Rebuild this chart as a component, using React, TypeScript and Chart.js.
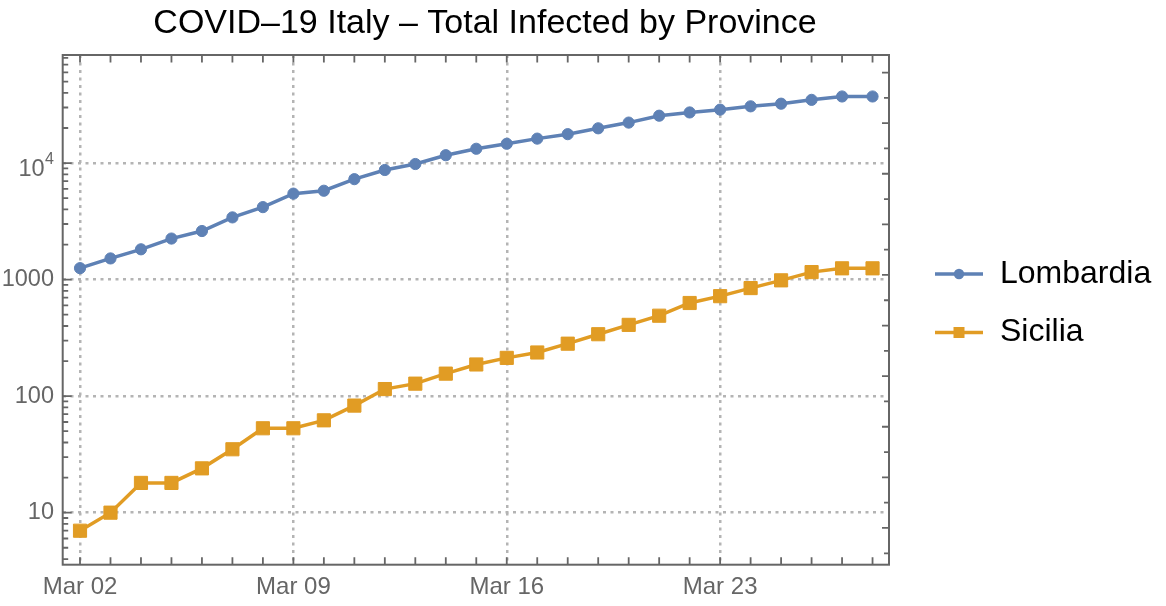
import React, { useEffect, useRef } from 'react';
import { Chart, registerables } from 'chart.js';

Chart.register(...registerables);

const titleText = 'COVID–19 Italy – Total Infected by Province';

const dates = [
  'Mar 02', 'Mar 03', 'Mar 04', 'Mar 05', 'Mar 06', 'Mar 07', 'Mar 08', 'Mar 09', 'Mar 10',
  'Mar 11', 'Mar 12', 'Mar 13', 'Mar 14', 'Mar 15', 'Mar 16', 'Mar 17', 'Mar 18', 'Mar 19',
  'Mar 20', 'Mar 21', 'Mar 22', 'Mar 23', 'Mar 24', 'Mar 25', 'Mar 26', 'Mar 27', 'Mar 28',
];

const lombardia = [
  1254, 1520, 1820, 2251, 2612, 3420, 4189, 5469, 5791, 7280, 8725, 9820, 11685, 13272,
  14649, 16220, 17713, 19884, 22264, 25515, 27206, 28761, 30703, 32346, 34889, 37298, 37298,
];

const sicilia = [
  7, 10, 18, 18, 24, 35, 53, 53, 62, 83, 115, 128, 156, 187, 213, 237, 282, 340, 409, 490,
  630, 721, 846, 986, 1160, 1250, 1250,
];

const xTickIndices = [0, 7, 14, 21];
const yTickValues = [10, 100, 1000, 10000];
const seriesNames = ['Lombardia', 'Sicilia'];

const BLUE = '#5e81b5';
const ORANGE = '#e19c24';
const FRAME = '#666666';
const GRID = '#b4b4b4';
const FONT = "'Liberation Sans', Arial, Helvetica, sans-serif";

const decorPlugin = {
  id: 'decor',
  afterDraw(chart: any) {
    const ctx = chart.ctx as CanvasRenderingContext2D;
    const { left, right, top, bottom } = chart.chartArea;
    const xs = chart.scales.x;
    const ys = chart.scales.y;
    ctx.save();

    // frame
    ctx.strokeStyle = FRAME;
    ctx.lineWidth = 2;
    ctx.setLineDash([]);
    ctx.strokeRect(left, top, right - left, bottom - top);

    // top / bottom ticks (daily)
    ctx.lineWidth = 1.8;
    ctx.beginPath();
    for (let i = 0; i < dates.length; i++) {
      const x = xs.getPixelForValue(i);
      ctx.moveTo(x, bottom);
      ctx.lineTo(x, bottom - 7.5);
      ctx.moveTo(x, top);
      ctx.lineTo(x, top + 7.5);
    }
    // left ticks (log10)
    for (let k = 0; k <= 5; k++) {
      for (let m = 1; m <= 9; m++) {
        const v = m * Math.pow(10, k);
        if (v < ys.min || v > ys.max) continue;
        const y = ys.getPixelForValue(v);
        const len = m === 1 ? 9 : 5.5;
        ctx.moveTo(left, y);
        ctx.lineTo(left + len, y);
      }
    }
    // right ticks (natural log spacing)
    const hMin = Math.ceil(2 * Math.log(ys.min));
    const hMax = Math.floor(2 * Math.log(ys.max));
    for (let h = hMin; h <= hMax; h++) {
      const v = Math.exp(h / 2);
      const y = ys.getPixelForValue(v);
      const len = h % 2 === 0 ? 7 : 5;
      ctx.moveTo(right, y);
      ctx.lineTo(right - len, y);
    }
    ctx.stroke();

    // y tick labels
    ctx.fillStyle = FRAME;
    ctx.textAlign = 'right';
    for (const v of yTickValues) {
      const y = ys.getPixelForValue(v);
      if (v === 10000) {
        ctx.textBaseline = 'alphabetic';
        ctx.font = `16px ${FONT}`;
        const w4 = ctx.measureText('4').width;
        ctx.fillText('4', 54, y + 1);
        ctx.font = `23.5px ${FONT}`;
        ctx.fillText('10', 54 - w4 - 0.5, y + 13);
      } else {
        ctx.textBaseline = 'middle';
        ctx.font = `23.5px ${FONT}`;
        ctx.fillText(String(v), 54, y);
      }
    }

    // title
    ctx.fillStyle = '#000';
    ctx.textAlign = 'center';
    ctx.textBaseline = 'alphabetic';
    ctx.font = `34px ${FONT}`;
    ctx.fillText(titleText, 485, 33);

    // legend
    const legendRows = [
      { name: seriesNames[0], color: BLUE, shape: 'circle', y: 274 },
      { name: seriesNames[1], color: ORANGE, shape: 'rect', y: 332.5 },
    ];
    for (const row of legendRows) {
      ctx.strokeStyle = row.color;
      ctx.lineWidth = 3.5;
      ctx.beginPath();
      ctx.moveTo(935, row.y);
      ctx.lineTo(983, row.y);
      ctx.stroke();
      ctx.fillStyle = row.color;
      if (row.shape === 'circle') {
        ctx.beginPath();
        ctx.arc(959, row.y, 5.2, 0, Math.PI * 2);
        ctx.fill();
      } else {
        ctx.fillRect(959 - 5.5, row.y - 5.5, 11, 11);
      }
      ctx.fillStyle = '#000';
      ctx.textAlign = 'left';
      ctx.textBaseline = 'alphabetic';
      ctx.font = `32px ${FONT}`;
      ctx.fillText(row.name, 1000, row.y + 8.5);
    }
    ctx.restore();
  },
};

export default function App() {
  const canvasRef = useRef<HTMLCanvasElement | null>(null);

  useEffect(() => {
    const canvas = canvasRef.current;
    if (!canvas) return;
    const chart = new Chart(canvas, {
      type: 'line',
      data: {
        datasets: [
          {
            label: seriesNames[0],
            data: lombardia.map((v, i) => ({ x: i, y: v })),
            borderColor: BLUE,
            backgroundColor: BLUE,
            borderWidth: 3.5,
            pointStyle: 'circle',
            pointRadius: 5.6,
            pointBorderWidth: 1,
            pointBorderColor: BLUE,
            pointBackgroundColor: BLUE,
            tension: 0,
          },
          {
            label: seriesNames[1],
            data: sicilia.map((v, i) => ({ x: i, y: v })),
            borderColor: ORANGE,
            backgroundColor: ORANGE,
            borderWidth: 3.5,
            pointStyle: 'rect',
            pointRadius: 9.3,
            pointBorderWidth: 1,
            pointBorderColor: ORANGE,
            pointBackgroundColor: ORANGE,
            tension: 0,
          },
        ],
      },
      plugins: [decorPlugin],
      options: {
        responsive: false,
        animation: false,
        devicePixelRatio: 1,
        layout: { padding: { left: 0, top: 55, right: 277, bottom: 0 } },
        plugins: {
          legend: { display: false },
          title: { display: false },
          tooltip: { enabled: false },
        },
        scales: {
          x: {
            type: 'linear',
            min: -0.568,
            max: 26.54,
            afterBuildTicks: (scale: any) => {
              scale.ticks = xTickIndices.map((v) => ({ value: v }));
            },
            afterFit: (scale: any) => {
              scale.height = 41.3;
            },
            ticks: {
              autoSkip: false,
              maxRotation: 0,
              padding: 8,
              color: FRAME,
              font: { family: FONT, size: 24 },
              callback: (v: any) => dates[Number(v)] ?? '',
            },
            grid: {
              color: GRID,
              lineWidth: 2.5,
              drawTicks: false,
            },
            border: { display: false, dash: [3, 4.5] },
          },
          y: {
            type: 'logarithmic',
            min: 3.576,
            max: 84660,
            afterBuildTicks: (scale: any) => {
              scale.ticks = yTickValues.map((v) => ({ value: v }));
            },
            afterFit: (scale: any) => {
              scale.width = 62.7;
            },
            ticks: { display: false },
            grid: {
              color: GRID,
              lineWidth: 2.5,
              drawTicks: false,
            },
            border: { display: false, dash: [3, 4.5] },
          },
        },
      },
    } as any);
    return () => chart.destroy();
  }, []);

  return (
    <div style={{ position: 'absolute', left: 0, top: 0, width: 1166, height: 606, background: '#fff' }}>
      <canvas ref={canvasRef} width={1166} height={606} style={{ width: 1166, height: 606, display: 'block' }} />
    </div>
  );
}
